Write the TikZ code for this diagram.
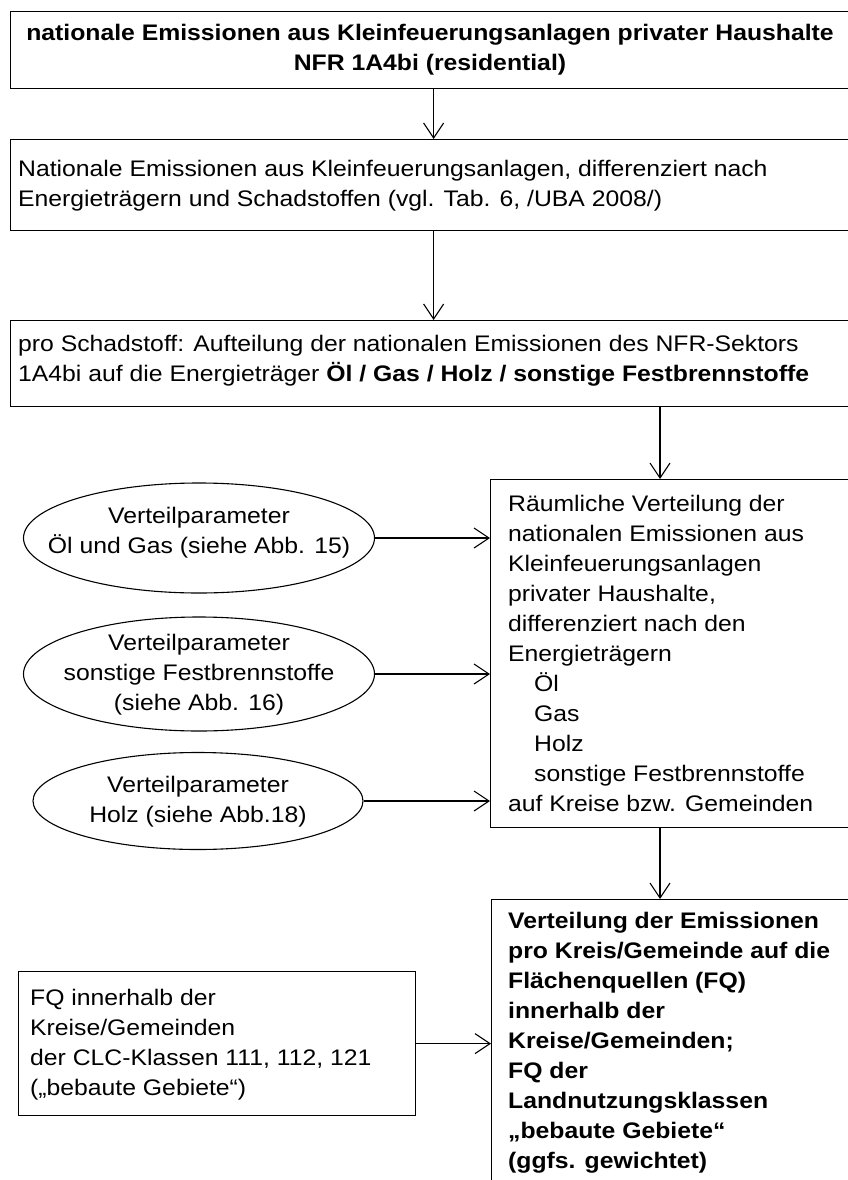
\documentclass[tikz,border=0pt]{standalone}
\usepackage{fontspec}
\setmainfont[FakeStretch=1.1]{Liberation Sans}
\usetikzlibrary{arrows.meta,shapes.geometric,calc}
\begin{document}
\begin{tikzpicture}[x=1pt,y=-1pt,
  box/.style={draw,line width=1.2pt,rectangle,inner sep=0pt,anchor=north west},
  oval/.style={draw,line width=1.1pt,ellipse,inner sep=0pt},
  txt/.style={inner sep=0pt,align=left,anchor=west,font=\fontsize{22.5}{30}\selectfont},
  ctxt/.style={txt,anchor=center,align=center},
  arr/.style={line width=1.1pt,-{Straight Barb[length=15pt,width=20pt,line width=1.1pt]}}]
\useasboundingbox (0,0) rectangle (848,1180);
\clip (0,0) rectangle (848,1180);
\fill[white] (0,0) rectangle (848,1180);

% top row of full-width boxes
\node[box,minimum width=846pt,minimum height=77pt] (b1) at (10,11) {};
\node[ctxt,font=\fontsize{22.5}{30}\selectfont\bfseries] (t1) at (430,49.5)
  {nationale Emissionen aus Kleinfeuerungsanlagen privater Haushalte\\NFR 1A4bi (residential)};

\node[box,minimum width=846pt,minimum height=91pt] (b2) at (10,139) {};
\node[txt] (t2) at (18,186)
  {Nationale Emissionen aus Kleinfeuerungsanlagen, differenziert nach\\Energieträgern und Schadstoffen (vgl. Tab. 6, /UBA 2008/)};

\node[box,minimum width=846pt,minimum height=86pt] (b3) at (10,320) {};
\node[txt] (t3) at (18,361)
  {pro Schadstoff: Aufteilung der nationalen Emissionen des NFR-Sektors\\1A4bi auf die Energieträger \textbf{Öl / Gas / Holz / sonstige Festbrennstoffe}};

% spatial distribution box
\node[box,minimum width=380pt,minimum height=348pt] (b4) at (490,479) {};
\node[txt] (t4) at (508,653)
  {Räumliche Verteilung der\\nationalen Emissionen aus\\Kleinfeuerungsanlagen\\privater Haushalte,\\differenziert nach den\\Energieträgern\\\hspace*{26pt}Öl\\\hspace*{26pt}Gas\\\hspace*{26pt}Holz\\\hspace*{26pt}sonstige Festbrennstoffe\\auf Kreise bzw. Gemeinden};

% distribution parameters
\node[oval,minimum width=351pt,minimum height=110pt] (e1) at (199,538) {};
\node[ctxt] (te1) at (199,533) {Verteilparameter\\Öl und Gas (siehe Abb. 15)};
\node[oval,minimum width=351pt,minimum height=114pt] (e2) at (199,674) {};
\node[ctxt] (te2) at (199,675) {Verteilparameter\\sonstige Festbrennstoffe\\(siehe Abb. 16)};
\node[oval,minimum width=330pt,minimum height=97pt] (e3) at (198,801) {};
\node[ctxt] (te3) at (198,802) {Verteilparameter\\Holz (siehe Abb.18)};

% area sources
\node[box,minimum width=380pt,minimum height=320pt] (b5) at (491,899) {};
\node[txt,font=\fontsize{22.5}{30}\selectfont\bfseries] (t5) at (508,1043)
  {Verteilung der Emissionen\\pro Kreis/Gemeinde auf die\\Flächenquellen (FQ)\\innerhalb der\\Kreise/Gemeinden;\\FQ der\\Landnutzungsklassen\\„bebaute Gebiete“\\(ggfs. gewichtet)};

\node[box,minimum width=397pt,minimum height=144pt] (b6) at (18,971) {};
\node[txt] (t6) at (30,1045)
  {FQ innerhalb der\\Kreise/Gemeinden\\der CLC-Klassen 111, 112, 121\\(„bebaute Gebiete“)};

% connectors
\coordinate (ax) at (660,0);
\draw[arr] (b1.south) -- (b2.north);
\draw[arr] (b2.south) -- (b3.north);
\draw[arr] (b3.south -| ax) -- (b4.north -| ax);
\draw[arr] (b4.south -| ax) -- (b5.north -| ax);
\draw[arr] (e1.east) -- (e1.east -| b4.west);
\draw[arr] (e2.east) -- (e2.east -| b4.west);
\draw[arr] (e3.east) -- (e3.east -| b4.west);
\draw[arr] (b6.east) -- (b6.east -| b5.west);
\end{tikzpicture}
\end{document}
